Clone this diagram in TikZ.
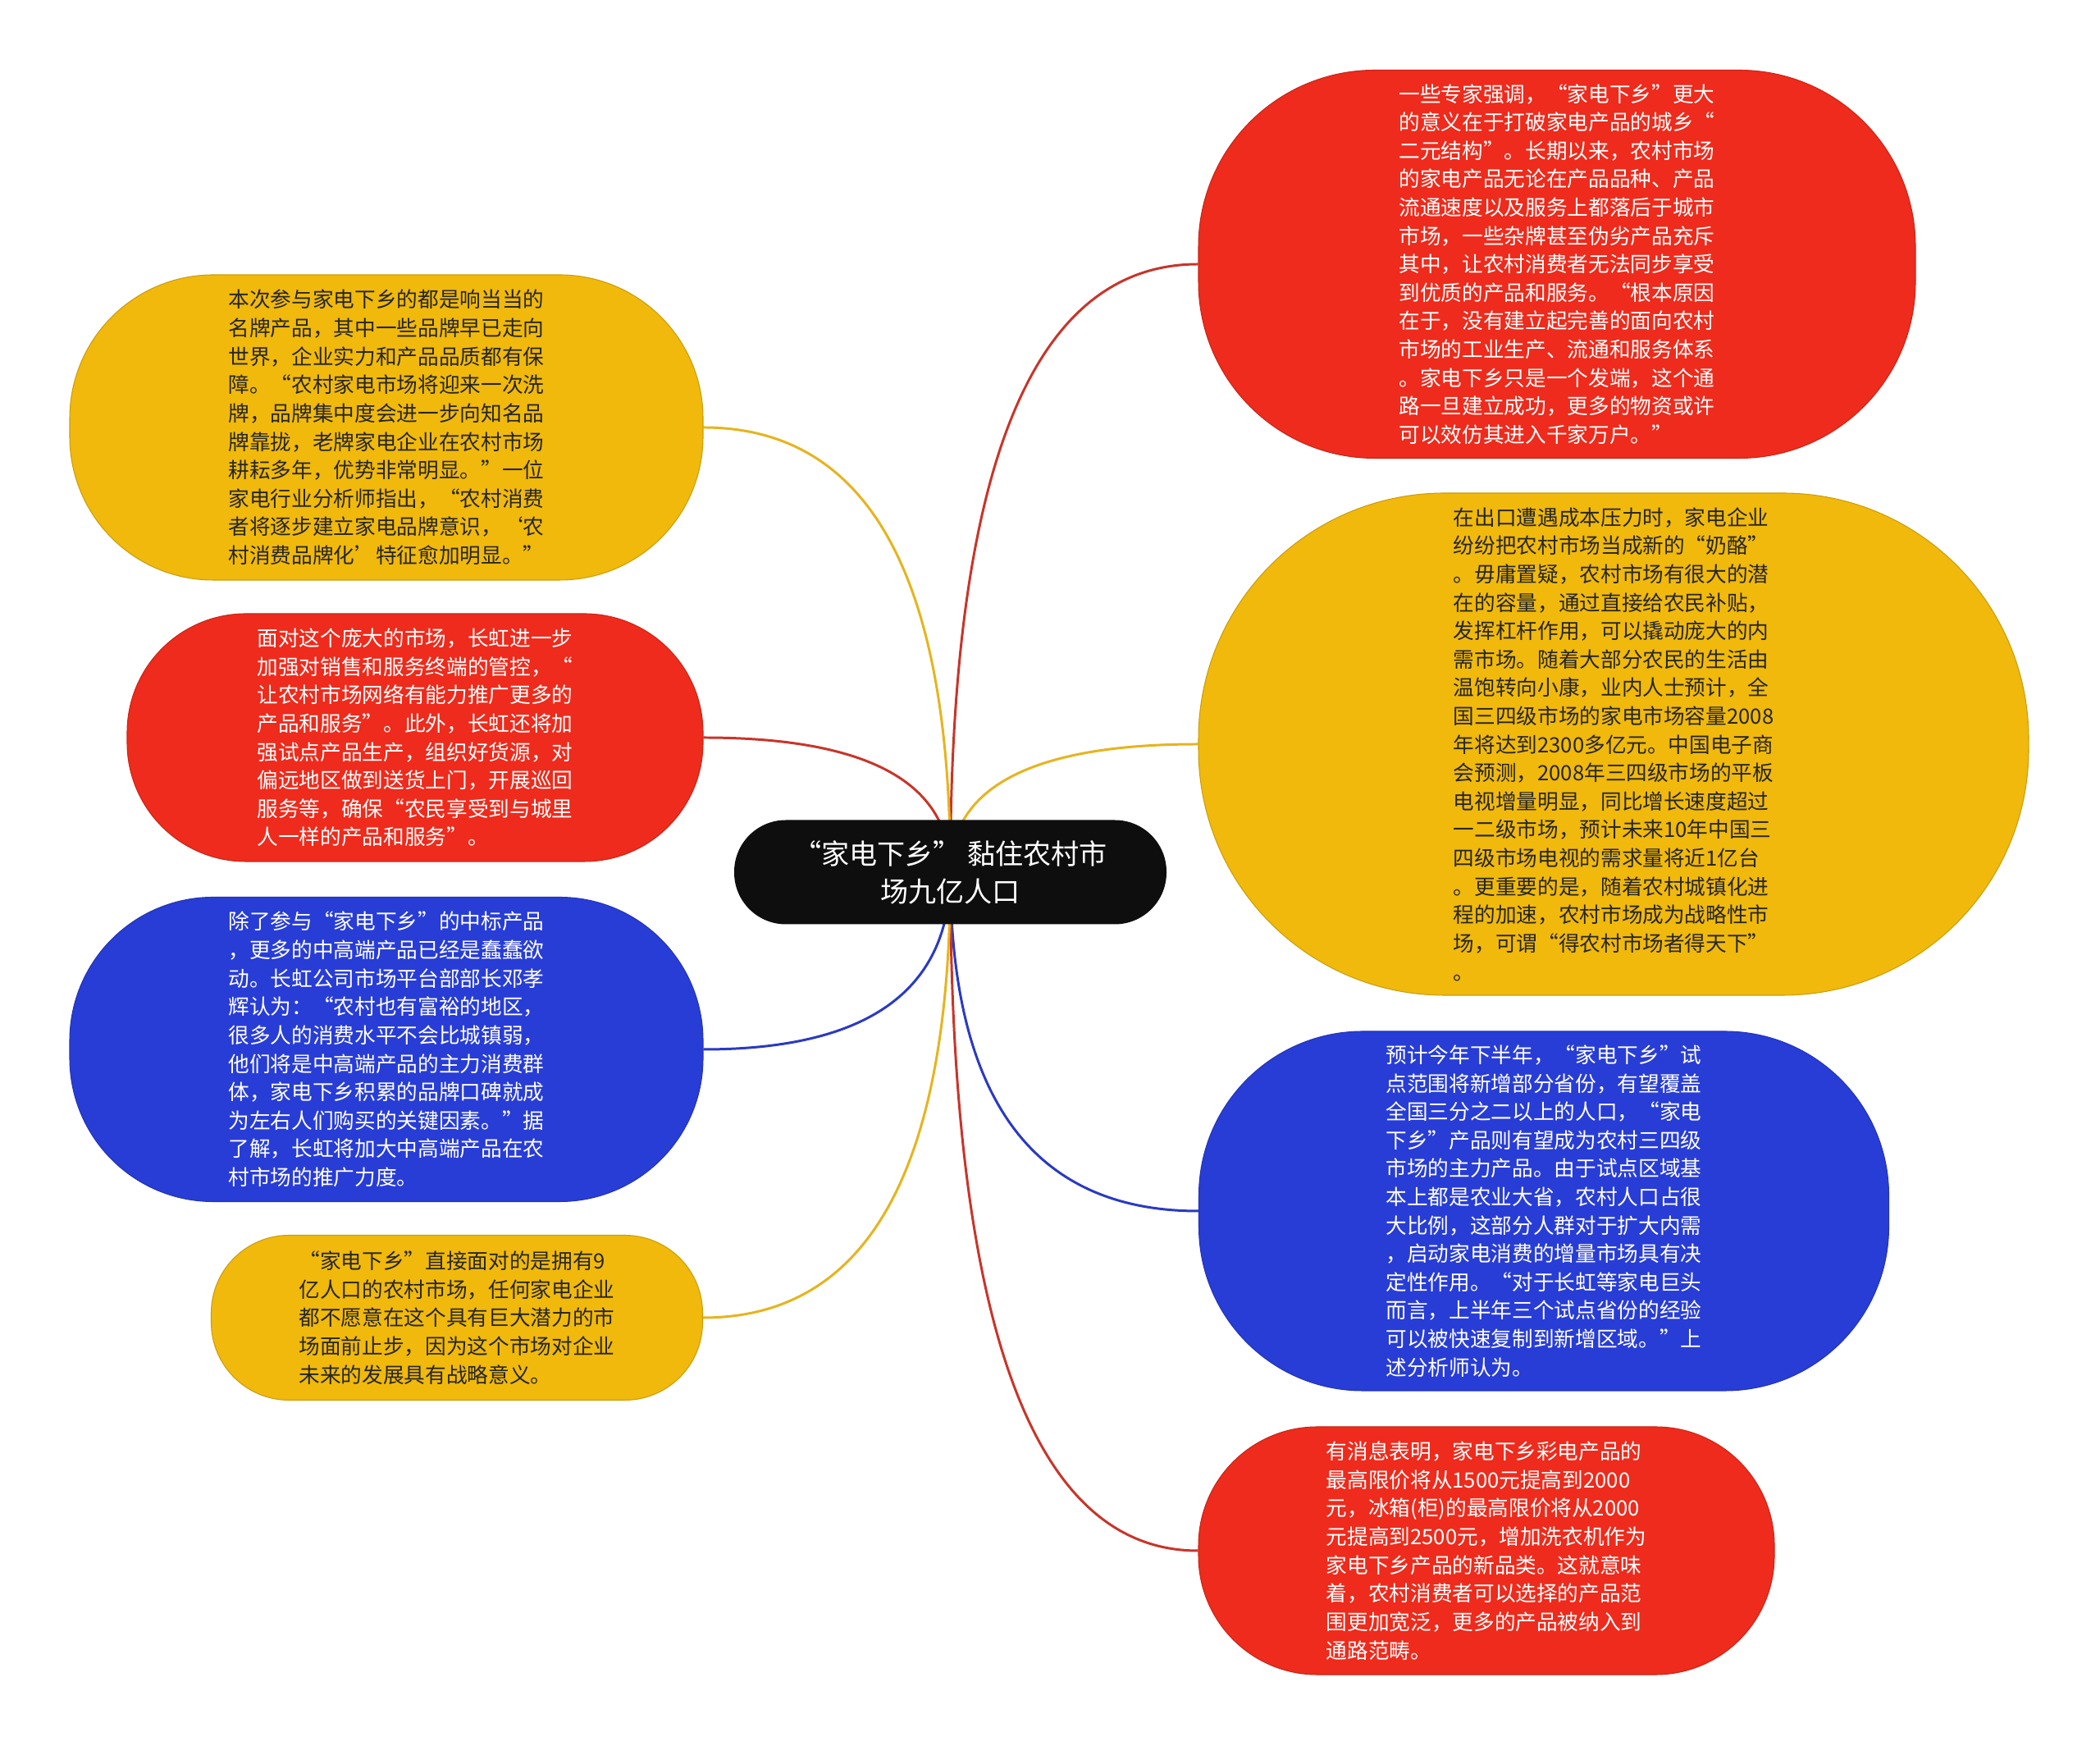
\documentclass[tikz,border=0pt]{standalone}
\usepackage{fontspec}
\setmainfont{Noto Sans CJK SC}
\usepackage{tikz}
\usetikzlibrary{calc, backgrounds}

\definecolor{mmred}{HTML}{EE2B1C}
\definecolor{mmyellow}{HTML}{F0B90C}
\definecolor{mmblue}{HTML}{283DD6}
\definecolor{mmblack}{HTML}{0E0E0E}
\definecolor{mmdark}{HTML}{262626}
\definecolor{linered}{HTML}{C8352A}
\definecolor{lineyellow}{HTML}{E6B41E}
\definecolor{lineblue}{HTML}{2A3AC2}

\tikzset{
  leaf/.style={align=left, inner sep=0pt, font=\fontsize{7.3}{9.85}\selectfont},
  redleaf/.style={leaf, fill=mmred, draw=mmred!85!black, line width=0.3pt, text=white},
  yellowleaf/.style={leaf, fill=mmyellow, draw=mmyellow!85!black, line width=0.3pt, text=mmdark},
  blueleaf/.style={leaf, fill=mmblue, draw=mmblue!85!black, line width=0.3pt, text=white},
  branch/.style={line width=0.85pt, to path={.. controls ($(\tikztostart)!0.667!(\tikztostart |- \tikztotarget)$) and ($(\tikztotarget)!0.667!(\tikztostart |- \tikztotarget)$) .. (\tikztotarget)}},
}

\begin{document}
\begin{tikzpicture}
%%%%%%%%%%%%%%%%%%%
% page

\begin{pgfonlayer}{background}
\fill [white] (0,0) rectangle (25.6,21.27);
\end{pgfonlayer}
\useasboundingbox (0,0) rectangle (25.6,21.27);

%%%%%%%%%%%%%%%%%%%
% central topic

\node (root) [fill=mmblack, text=white, rounded corners=0.63cm, minimum width=5.27cm, minimum height=1.27cm,
  align=center, inner sep=0pt, font=\fontsize{9.7}{13.1}\selectfont] at (11.585,10.64)
  {“家电下乡” 黏住农村市\\场九亿人口};

%%%%%%%%%%%%%%%%%%%
% RIGHT SIDE

\node (n1) [redleaf, rounded corners=2.15cm, minimum width=8.74cm, minimum height=4.73cm] at (18.98,18.05)
  {一些专家强调，“家电下乡”更大\\的意义在于打破家电产品的城乡“\\二元结构”。长期以来，农村市场\\的家电产品无论在产品品种、产品\\流通速度以及服务上都落后于城市\\市场，一些杂牌甚至伪劣产品充斥\\其中，让农村消费者无法同步享受\\到优质的产品和服务。“根本原因\\在于，没有建立起完善的面向农村\\市场的工业生产、流通和服务体系\\。家电下乡只是一个发端，这个通\\路一旦建立成功，更多的物资或许\\可以效仿其进入千家万户。”};

\node (n2) [yellowleaf, rounded corners=3.0cm, minimum width=10.12cm, minimum height=6.12cm] at (19.67,12.20)
  {在出口遭遇成本压力时，家电企业\\纷纷把农村市场当成新的“奶酪”\\。毋庸置疑，农村市场有很大的潜\\在的容量，通过直接给农民补贴，\\发挥杠杆作用，可以撬动庞大的内\\需市场。随着大部分农民的生活由\\温饱转向小康，业内人士预计，全\\国三四级市场的家电市场容量2008\\年将达到2300多亿元。中国电子商\\会预测，2008年三四级市场的平板\\电视增量明显，同比增长速度超过\\一二级市场，预计未来10年中国三\\四级市场电视的需求量将近1亿台\\。更重要的是，随着农村城镇化进\\程的加速，农村市场成为战略性市\\场，可谓“得农村市场者得天下”\\。};

\node (n3) [blueleaf, rounded corners=2.0cm, minimum width=8.41cm, minimum height=4.38cm] at (18.82,6.51)
  {预计今年下半年，“家电下乡”试\\点范围将新增部分省份，有望覆盖\\全国三分之二以上的人口，“家电\\下乡”产品则有望成为农村三四级\\市场的主力产品。由于试点区域基\\本上都是农业大省，农村人口占很\\大比例，这部分人群对于扩大内需\\，启动家电消费的增量市场具有决\\定性作用。“对于长虹等家电巨头\\而言，上半年三个试点省份的经验\\可以被快速复制到新增区域。”上\\述分析师认为。};

\node (n4) [redleaf, rounded corners=1.45cm, minimum width=7.02cm, minimum height=3.02cm] at (18.12,2.37)
  {有消息表明，家电下乡彩电产品的\\最高限价将从1500元提高到2000\\元，冰箱(柜)的最高限价将从2000\\元提高到2500元，增加洗衣机作为\\家电下乡产品的新品类。这就意味\\着，农村消费者可以选择的产品范\\围更加宽泛，更多的产品被纳入到\\通路范畴。};

%%%%%%%%%%%%%%%%%%%
% LEFT SIDE

\node (n5) [yellowleaf, rounded corners=1.75cm, minimum width=7.72cm, minimum height=3.72cm] at (4.71,16.06)
  {本次参与家电下乡的都是响当当的\\名牌产品，其中一些品牌早已走向\\世界，企业实力和产品品质都有保\\障。“农村家电市场将迎来一次洗\\牌，品牌集中度会进一步向知名品\\牌靠拢，老牌家电企业在农村市场\\耕耘多年，优势非常明显。”一位\\家电行业分析师指出，“农村消费\\者将逐步建立家电品牌意识，‘农\\村消费品牌化’特征愈加明显。”};

\node (n6) [redleaf, rounded corners=1.45cm, minimum width=7.02cm, minimum height=3.02cm] at (5.06,12.28)
  {面对这个庞大的市场，长虹进一步\\加强对销售和服务终端的管控，“\\让农村市场网络有能力推广更多的\\产品和服务”。此外，长虹还将加\\强试点产品生产，组织好货源，对\\偏远地区做到送货上门，开展巡回\\服务等，确保“农民享受到与城里\\人一样的产品和服务”。};

\node (n7) [blueleaf, rounded corners=1.75cm, minimum width=7.72cm, minimum height=3.71cm] at (4.71,8.48)
  {除了参与“家电下乡”的中标产品\\，更多的中高端产品已经是蠢蠢欲\\动。长虹公司市场平台部部长邓孝\\辉认为：“农村也有富裕的地区，\\很多人的消费水平不会比城镇弱，\\他们将是中高端产品的主力消费群\\体，家电下乡积累的品牌口碑就成\\为左右人们购买的关键因素。”据\\了解，长虹将加大中高端产品在农\\村市场的推广力度。};

\node (n8) [yellowleaf, rounded corners=0.95cm, minimum width=5.99cm, minimum height=2.01cm] at (5.57,5.21)
  {“家电下乡”直接面对的是拥有9\\亿人口的农村市场，任何家电企业\\都不愿意在这个具有巨大潜力的市\\场面前止步，因为这个市场对企业\\未来的发展具有战略意义。};

%%%%%%%%%%%%%%%%%%%
% branches

\begin{pgfonlayer}{background}
\draw [branch, linered] (root.center) to (n1.west);
\draw [branch, lineyellow] (root.center) to (n2.west);
\draw [branch, lineblue] (root.center) to (n3.west);
\draw [branch, linered] (root.center) to (n4.west);
\draw [branch, lineyellow] (root.center) to (n5.east);
\draw [branch, linered] (root.center) to (n6.east);
\draw [branch, lineblue] (root.center) to (n7.east);
\draw [branch, lineyellow] (root.center) to (n8.east);
\end{pgfonlayer}

\end{tikzpicture}
\end{document}
